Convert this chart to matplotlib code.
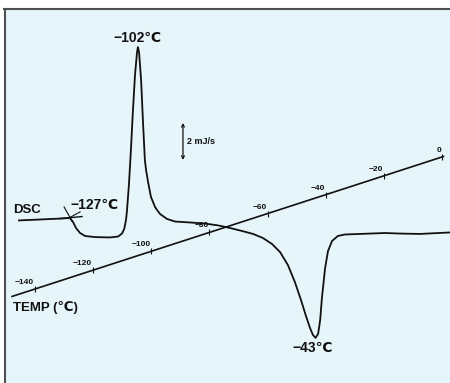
import matplotlib
matplotlib.use("Agg")
import matplotlib.pyplot as plt
from matplotlib.patches import Rectangle
from matplotlib.lines import Line2D

plt.rcParams['font.family'] = ['Liberation Sans', 'DejaVu Sans']

# DSC trace: program temperature (C) vs heat flow (mJ/s)
dsc_temp = [-145.5, -138.3, -131.4, -128.0, -126.9, -125.9, -124.5, -122.8, -119.4, -114.2,
            -111.4, -110.1, -109.3, -108.7, -108.4, -107.7, -107.0, -106.3, -105.6, -104.9, -104.6,
            -104.2, -103.5, -102.8, -102.2, -101.8, -101.1, -100.1, -99.4, -98.7, -98.0, -97.0, -94.6, -91.8,
            -86.7, -81.5, -77.0, -72.9, -68.8, -65.0, -61.6, -58.5, -55.7, -53.0,
            -50.6, -48.5, -46.8, -45.4, -44.4, -43.5, -42.6, -41.9, -41.3, -40.2,
            -39.2, -37.8, -35.8, -33.4, -28.2, -19.6, -14.4, -7.6, 2.8]
dsc_flow = [0.68, 0.73, 0.78, 0.81, 0.59, 0.27, 0.0, -0.16, -0.22, -0.24,
            -0.19, -0.03, 0.22, 0.70, 1.13, 2.59, 4.49, 6.65, 8.54, 9.77, 10.05,
            9.77, 8.26, 5.83, 3.94, 3.41, 2.75, 1.94, 1.68, 1.40, 1.24, 1.03, 0.76, 0.62,
            0.57, 0.51, 0.41, 0.27, 0.11, -0.05, -0.27, -0.59, -1.03, -1.73,
            -2.65, -3.62, -4.48, -5.13, -5.51, -5.67, -5.45, -4.70, -3.51, -1.89,
            -0.97, -0.43, -0.16, -0.08, -0.05, 0.0, -0.03, -0.05, 0.03]

# temperature program line
temp_line = [-147.9, 0.5]
temp_ticks = [-140, -120, -100, -80, -60, -40, -20, 0]
temp_labels = ['\u2212140', '\u2212120', '\u2212100', '\u221280', '\u221260', '\u221240', '\u221220', '0']

peak_labels = ['\u2212102\u2103', '\u2212127\u2103', '\u221243\u2103']

ink = '#111111'

fig = plt.figure(figsize=(4.5, 3.83), dpi=100)
fig.patch.set_facecolor('white')
fig.patch.set_linewidth(0)

# panel background and border
W, H = 450.0, 383.0
fig.patches.append(Rectangle((6 / W, -0.01), 1.02 - 6 / W, 1.01 - 10 / H, transform=fig.transFigure,
                             facecolor='#e6f5f9', edgecolor='none', lw=0, zorder=-5))
fig.lines.append(Line2D([4 / W, 1.01], [1 - 9 / H, 1 - 9 / H], transform=fig.transFigure,
                        color='#505050', lw=1.5, zorder=-4))
fig.lines.append(Line2D([5 / W, 5 / W], [-0.01, 1 - 9 / H], transform=fig.transFigure,
                        color='#505050', lw=1.5, zorder=-4))

ax = fig.add_axes([0, 0, 1, 1])
ax.set_zorder(2)
ax.set_facecolor('none')
ax.set_xlim(-152.04, 2.76)
ax.set_ylim(-8.108, 12.595)
ax.axis('off')

ax2 = ax.twinx()
ax2.set_position([0, 0, 1, 1])
ax2.set_zorder(3)
ax2.set_ylim(-239.68, 166.47)
ax2.axis('off')

# DSC curve
ax.plot(dsc_temp, dsc_flow, color=ink, lw=1.3, solid_joinstyle='round')

# onset construction at -127
ax.plot([-131.4, -123.8], [0.78, 0.89], color=ink, lw=1.0)
ax.plot([-130.0, -127.3], [1.41, 0.65], color=ink, lw=0.8)
ax.plot([-124.5, -128.0], [1.14, 0.84], color=ink, lw=0.8)

# temperature line with ticks
ax2.plot(temp_line, temp_line, color=ink, lw=1.2)
ax2.plot(temp_ticks, temp_ticks, ls='none', marker='|', ms=4, mew=0.8, color=ink)
for t, lab in zip(temp_ticks, temp_labels):
    ax2.annotate(lab, (t, t), xytext=(-1, 3), textcoords='offset pixels',
                 ha='right', va='bottom', fontsize=6, fontweight='bold', color=ink)

# scale bar
ax.annotate('', xy=(-89.1, 5.95), xytext=(-89.1, 3.95),
            arrowprops=dict(arrowstyle='<->', color=ink, lw=0.9, shrinkA=0, shrinkB=0,
                            mutation_scale=5))
ax.text(-87.6, 4.92, '2 mJ/s', fontsize=6.5, fontweight='bold', ha='left', va='center', color=ink)

# labels
ax.text(-104.9, 10.54, peak_labels[0], fontsize=10, fontweight='bold', ha='center', va='center', color=ink)
ax.text(-127.8, 1.51, peak_labels[1], fontsize=10, fontweight='bold', ha='left', va='center', color=ink)
ax.text(-44.4, -6.22, peak_labels[2], fontsize=10, fontweight='bold', ha='center', va='center', color=ink)
ax.text(-147.6, 1.24, 'DSC', fontsize=9.5, fontweight='bold', ha='left', va='center', color=ink)
ax.text(-147.4, -4.0, 'TEMP (\u2103)', fontsize=9.5, fontweight='bold', ha='left', va='center', color=ink)

fig.savefig('out.png', dpi=100)
